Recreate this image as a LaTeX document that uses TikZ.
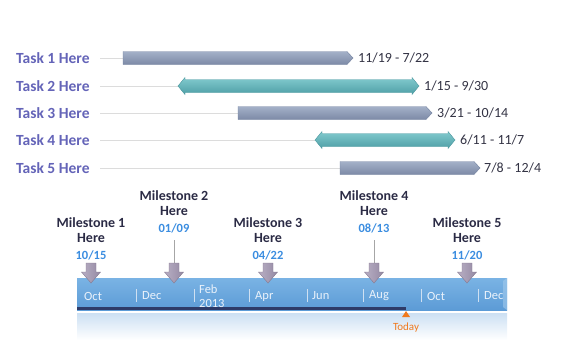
\documentclass[tikz,border=0pt]{standalone}
\usepackage{fontspec}
\setmainfont{Carlito}
\definecolor{taskc}{HTML}{6464B8}
\definecolor{gbT}{HTML}{A3B0C8}
\definecolor{gbB}{HTML}{7C8AA6}
\definecolor{gbD}{HTML}{7382A0}
\definecolor{tbT}{HTML}{82CACE}
\definecolor{tbB}{HTML}{4E9FA6}
\definecolor{tbD}{HTML}{4A979E}
\definecolor{gridc}{HTML}{DCDCDC}
\definecolor{rangec}{HTML}{333344}
\definecolor{msc}{HTML}{2B2B45}
\definecolor{datec}{HTML}{3B8DE0}
\definecolor{bandT}{HTML}{7AB3E4}
\definecolor{bandB}{HTML}{5C9BD6}
\definecolor{bandD}{HTML}{2E3B68}
\definecolor{monthc}{HTML}{EAF2FB}
\definecolor{sepc}{HTML}{CFE0F2}
\definecolor{arrL}{HTML}{B8AEC4}
\definecolor{arrR}{HTML}{958AA3}
\definecolor{arrD}{HTML}{85798F}
\definecolor{todayc}{HTML}{F07A1E}
\definecolor{reflc}{HTML}{CCE0F3}
\begin{document}
\begin{tikzpicture}[x=1pt,y=-1pt,
  tasklabel/.style={anchor=west,inner sep=0pt,font=\fontsize{15.5}{16}\selectfont\bfseries,text=taskc},
  rangelabel/.style={anchor=west,inner sep=0pt,font=\fontsize{14}{15}\selectfont,text=rangec},
  gridline/.style={draw=gridc,line width=0.8pt},
  graybar/.style={top color=gbT,bottom color=gbB,draw=gbD,line width=0.4pt},
  tealbar/.style={top color=tbT,bottom color=tbB,draw=tbD,line width=0.4pt},
  mslabel/.style={align=center,inner sep=0pt,font=\fontsize{14}{14.5}\selectfont\bfseries,text=msc},
  msdate/.style={inner sep=0pt,font=\fontsize{12.5}{13}\selectfont\bfseries,text=datec},
  msarrow/.style={left color=arrL,right color=arrR,draw=arrD,line width=0.4pt},
  msline/.style={draw=gray!70,line width=0.6pt},
  monthlabel/.style={anchor=west,inner sep=0pt,align=left,font=\fontsize{12.5}{13.5}\selectfont,text=monthc},
  sepline/.style={draw=sepc,line width=0.8pt}
]
\useasboundingbox (0,0) rectangle (580,360);

% ---------- Gantt rows ----------
\node[tasklabel] (t1) at (16,58) {Task 1 Here};
\node[tasklabel] (t2) at (16,86) {Task 2 Here};
\node[tasklabel] (t3) at (16,113) {Task 3 Here};
\node[tasklabel] (t4) at (16,140.5) {Task 4 Here};
\node[tasklabel] (t5) at (16,168) {Task 5 Here};

\coordinate (g1) at (100,58);  \coordinate (b1) at (123,58);
\coordinate (g2) at (100,86);  \coordinate (b2) at (178,86);
\coordinate (g3) at (100,113); \coordinate (b3) at (238,113);
\coordinate (g4) at (100,140); \coordinate (b4) at (315,140);
\coordinate (g5) at (100,168); \coordinate (b5) at (340,168);
\foreach \i in {1,...,5} {\draw[gridline] (g\i) -- (b\i);}

% bar 1
\path[graybar] (123,51.5) -- (347,51.5) -- (353,58) -- (347,64.5) -- (123,64.5) -- cycle;
\node[rangelabel] (r1) at (358,58) {11/19 - 7/22};
% bar 2
\path[tealbar] (178,86) -- (185,77.5) -- (185,79.5) -- (412,79.5) -- (412,77.5) -- (419,86) -- (412,94.5) -- (412,92.5) -- (185,92.5) -- (185,94.5) -- cycle;
\node[rangelabel] (r2) at (424,86) {1/15 - 9/30};
% bar 3
\path[graybar] (238,106.5) -- (426,106.5) -- (432,113) -- (426,119.5) -- (238,119.5) -- cycle;
\node[rangelabel] (r3) at (437,113) {3/21 - 10/14};
% bar 4
\path[tealbar] (315,140) -- (322,131.5) -- (322,133.5) -- (448,133.5) -- (448,131.5) -- (455,140) -- (448,148.5) -- (448,146.5) -- (322,146.5) -- (322,148.5) -- cycle;
\node[rangelabel] (r4) at (460,140) {6/11 - 11/7};
% bar 5
\path[graybar] (340,161.5) -- (474,161.5) -- (480,168) -- (474,174.5) -- (340,174.5) -- cycle;
\node[rangelabel] (r5) at (484,168) {7/8 - 12/4};

% ---------- Timeline band ----------
\shade[top color=reflc,bottom color=white] (77,313) rectangle (507,340);
\shade[top color=bandT,bottom color=bandB] (77,278) rectangle (507,310);
\fill[bandT!70!white,opacity=0.6] (503,281) -- (507,278) -- (507,310) -- (503,307) -- cycle;
\fill[bandD] (77,306.5) rectangle (406,310);

\foreach \x in {136,194,249,307,363,421,478} {\draw[sepline] (\x,289) -- (\x,302);}

\node[monthlabel] (m1) at (84,296) {Oct};
\node[monthlabel] (m2) at (142,296) {Dec};
\node[monthlabel] (m3) at (199,296) {Feb\\2013};
\node[monthlabel] (m4) at (255,296) {Apr};
\node[monthlabel] (m5) at (312,296) {Jun};
\node[monthlabel] (m6) at (369,296) {Aug};
\node[monthlabel] (m7) at (427,296) {Oct};
\node[monthlabel] (m8) at (484,296) {Dec};

% Today marker
\coordinate (today) at (406,311);
\fill[todayc] (today) -- (410,317) -- (402,317) -- cycle;
\node[inner sep=0pt,font=\fontsize{11}{12}\selectfont,text=todayc] (todaylbl) at (406,328) {Today};

% ---------- Milestones ----------
% 1
\node[mslabel] (ms1) at (91,230) {Milestone 1\\Here};
\node[msdate] (d1) at (91,255) {10/15};
\path[msarrow] (86,263) -- (96,263) -- (96,272) -- (100.5,272) -- (91,283) -- (81.5,272) -- (86,272) -- cycle;
% 2
\node[mslabel] (ms2) at (174,203) {Milestone 2\\Here};
\node[msdate] (d2) at (174,228) {01/09};
\coordinate (a2) at (174,263);
\draw[msline] (174,240) -- (a2);
\path[msarrow] (169,263) -- (179,263) -- (179,272) -- (183.5,272) -- (174,283) -- (164.5,272) -- (169,272) -- cycle;
% 3
\node[mslabel] (ms3) at (268,230) {Milestone 3\\Here};
\node[msdate] (d3) at (268,255) {04/22};
\path[msarrow] (263,263) -- (273,263) -- (273,272) -- (277.5,272) -- (268,283) -- (258.5,272) -- (263,272) -- cycle;
% 4
\node[mslabel] (ms4) at (374,203) {Milestone 4\\Here};
\node[msdate] (d4) at (374,228) {08/13};
\coordinate (a4) at (374,263);
\draw[msline] (374,240) -- (a4);
\path[msarrow] (369,263) -- (379,263) -- (379,272) -- (383.5,272) -- (374,283) -- (364.5,272) -- (369,272) -- cycle;
% 5
\node[mslabel] (ms5) at (467,230) {Milestone 5\\Here};
\node[msdate] (d5) at (467,255) {11/20};
\path[msarrow] (462,263) -- (472,263) -- (472,272) -- (476.5,272) -- (467,283) -- (457.5,272) -- (462,272) -- cycle;
\end{tikzpicture}
\end{document}
